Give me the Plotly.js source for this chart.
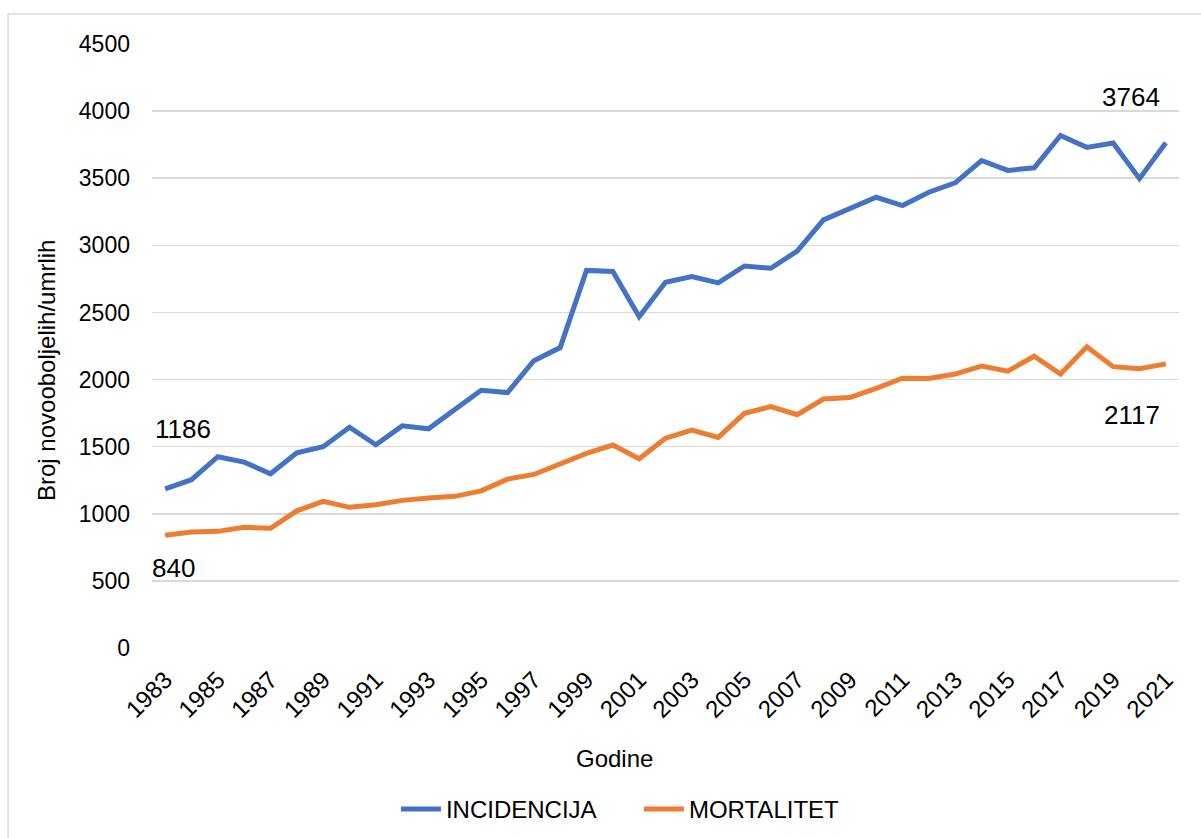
<!DOCTYPE html>
<html>
<head>
<meta charset="utf-8">
<script src="https://cdn.plot.ly/plotly-3.0.1.min.js"></script>
<style>
  html, body { margin: 0; padding: 0; background: #ffffff; }
  #grafikon { width: 1201px; height: 838px; }
</style>
</head>
<body>
<div id="grafikon"></div>
<script>
document.addEventListener("DOMContentLoaded", function (event) {

    var godine = [1983, 1984, 1985, 1986, 1987, 1988, 1989, 1990, 1991, 1992,
      1993, 1994, 1995, 1996, 1997, 1998, 1999, 2000, 2001, 2002,
      2003, 2004, 2005, 2006, 2007, 2008, 2009, 2010, 2011, 2012,
      2013, 2014, 2015, 2016, 2017, 2018, 2019, 2020, 2021];

    var incidencija = [1186, 1254, 1425, 1385, 1298, 1455, 1500, 1645, 1514, 1655,
      1633, 1774, 1920, 1903, 2140, 2238, 2813, 2805, 2468, 2725,
      2768, 2720, 2846, 2829, 2957, 3190, 3272, 3358, 3296, 3396,
      3466, 3632, 3558, 3578, 3818, 3730, 3762, 3497, 3764];

    var mortalitet = [840, 864, 869, 899, 892, 1022, 1093, 1048, 1068, 1100,
      1117, 1130, 1171, 1258, 1293, 1376, 1450, 1512, 1410, 1563,
      1624, 1569, 1748, 1799, 1738, 1855, 1866, 1934, 2010, 2008,
      2041, 2100, 2063, 2174, 2041, 2244, 2096, 2080, 2117];

    var yTicks = [0, 500, 1000, 1500, 2000, 2500, 3000, 3500, 4000, 4500];

    var boje = [];
    boje["INCIDENCIJA"] = '#4472C4';
    boje["MORTALITET"] = '#ED7D31';

    var font = '"Liberation Sans", Arial, sans-serif';
    var zadnji = godine.length - 1;

    var podaci = [{
      x: godine,
      y: incidencija,
      name: 'INCIDENCIJA',
      type: 'scatter',
      mode: 'lines',
      line: { color: boje["INCIDENCIJA"], width: 5 }
    }, {
      x: godine,
      y: mortalitet,
      name: 'MORTALITET',
      type: 'scatter',
      mode: 'lines',
      line: { color: boje["MORTALITET"], width: 5 }
    }];

    // oznake prve i zadnje vrijednosti
    var oznaka = function (x, y, anchor, xs, ys) {
      return {
        x: x, y: y, xref: 'x', yref: 'y',
        text: String(y), showarrow: false,
        xanchor: anchor, yanchor: 'middle',
        xshift: xs, yshift: ys,
        font: { family: font, size: 26, color: '#000000' }
      };
    };

    var layout = {
      width: 1201,
      height: 838,
      font: { family: font, size: 23, color: '#000000' },
      margin: { l: 152, r: 22, t: 44, b: 190 },
      paper_bgcolor: '#ffffff',
      plot_bgcolor: '#ffffff',
      showlegend: true,
      legend: {
        orientation: 'h',
        xref: 'container', yref: 'container',
        x: 0.532, xanchor: 'center',
        y: 0.034, yanchor: 'middle',
        font: { family: font, size: 24, color: '#000000' },
        entrywidth: 188,
        itemwidth: 40
      },
      xaxis: {
        range: [1982.5, 2021.5],
        tickmode: 'array',
        tickvals: godine.filter(function (g) { return (g - 1983) % 2 === 0; }),
        tickangle: -45,
        showgrid: false,
        zeroline: false,
        showline: false,
        ticks: '',
        ticklabelstandoff: 12,
        tickfont: { family: font, size: 24, color: '#000000' },
        fixedrange: true
      },
      yaxis: {
        range: [0, 4500],
        tickmode: 'array',
        tickvals: yTicks,
        showgrid: true,
        gridcolor: '#d9d9d9',
        gridwidth: 1.5,
        zeroline: false,
        showline: false,
        ticks: '',
        ticklabelstandoff: 21,
        tickfont: { family: font, size: 23, color: '#000000' },
        fixedrange: true
      },
      annotations: [
        oznaka(godine[0], incidencija[0], 'left', -12, 60),
        oznaka(godine[0], mortalitet[0], 'left', -15, -33),
        oznaka(godine[zadnji], incidencija[zadnji], 'right', -4, 46),
        oznaka(godine[zadnji], mortalitet[zadnji], 'right', -4, -51),
        {
          xref: 'paper', yref: 'paper', x: -0.102, y: 0.459,
          text: 'Broj novooboljelih/umrlih', textangle: -90, showarrow: false,
          xanchor: 'center', yanchor: 'middle',
          font: { family: font, size: 24, color: '#000000' }
        },
        {
          xref: 'paper', yref: 'paper', x: 0.45, y: -0.183,
          text: 'Godine', showarrow: false,
          xanchor: 'center', yanchor: 'middle',
          font: { family: font, size: 24, color: '#000000' }
        }
      ],
      shapes: [{
        type: 'rect', xref: 'paper', yref: 'paper',
        x0: -0.1402, x1: 1.03, y0: -0.4, y1: 1.0497,
        line: { color: '#d9d9d9', width: 1.5 },
        fillcolor: 'rgba(0,0,0,0)',
        layer: 'below'
      }]
    };

    Plotly.newPlot('grafikon', podaci, layout, {
      displayModeBar: false,
      staticPlot: true
    });

});
</script>
</body>
</html>
